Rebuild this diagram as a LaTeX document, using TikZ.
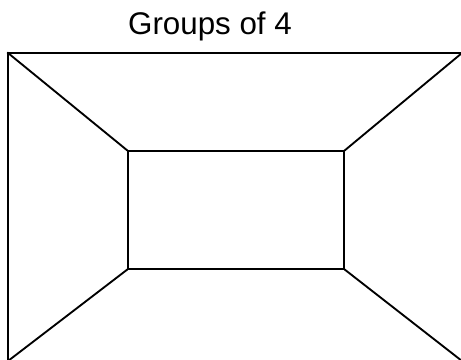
\documentclass[tikz,border=0pt]{standalone}
\usepackage{fontspec}
\setmainfont{Liberation Sans}
\begin{document}
\begin{tikzpicture}[x=0.75pt,y=-0.75pt,
  edge/.style={draw=black,line width=1.4pt,line cap=rect},
  title/.style={font=\fontsize{23.5}{28}\selectfont,inner sep=0pt,anchor=base}]
\useasboundingbox (0,0) rectangle (461,360);
\coordinate (otl) at (8,53);
\coordinate (otr) at (462,53);
\coordinate (obl) at (8,361);
\coordinate (obr) at (462,361);
\coordinate (itl) at (128,151);
\coordinate (itr) at (344,151);
\coordinate (ibl) at (128,269);
\coordinate (ibr) at (344,269);
\node[title] (t) at (210,35) {Groups of 4};
\draw[edge] (obl) -- (otl) -- (otr);
\draw[edge] (itl) rectangle (ibr);
\draw[edge] (otl) -- (itl);
\draw[edge] (otr) -- (itr);
\draw[edge] (obl) -- (ibl);
\draw[edge] (obr) -- (ibr);
\end{tikzpicture}
\end{document}
